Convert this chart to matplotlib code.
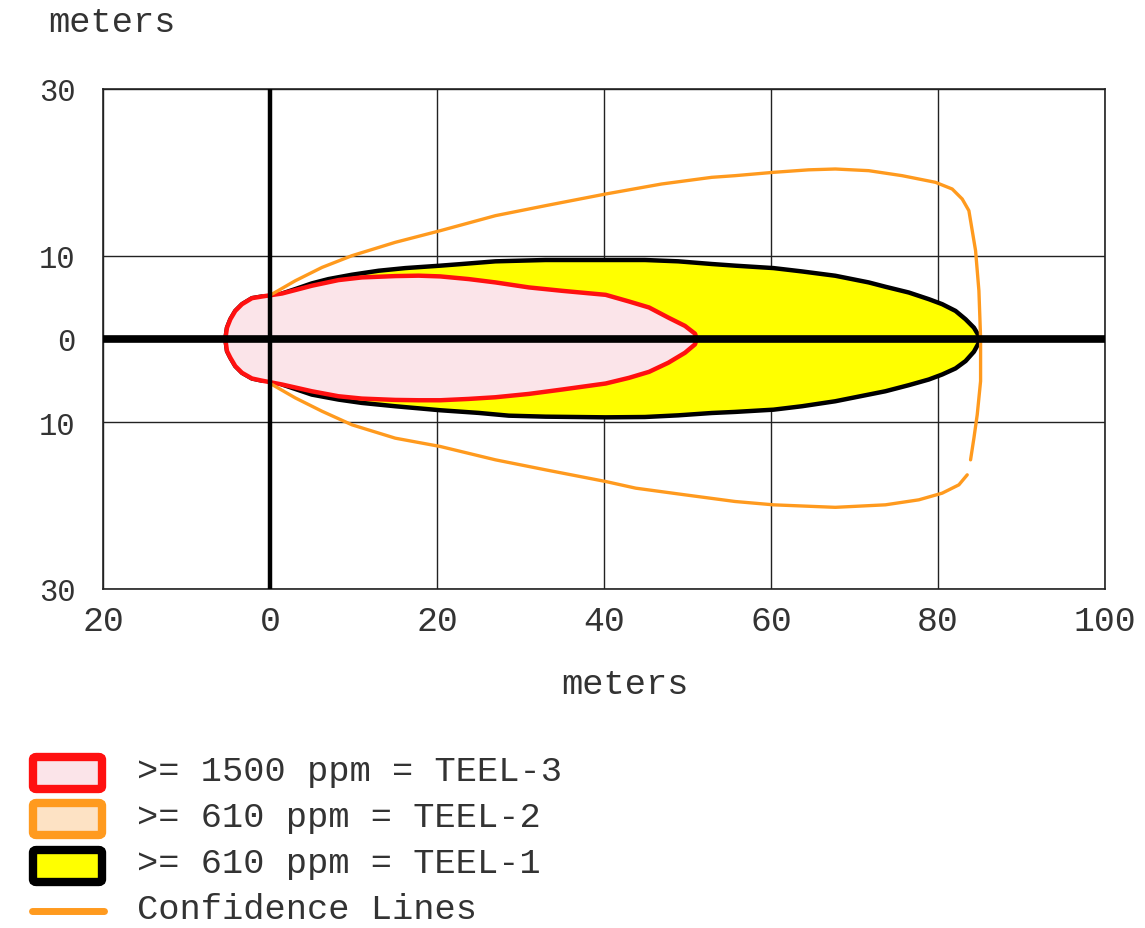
import matplotlib
matplotlib.use("Agg")
import matplotlib.pyplot as plt
from matplotlib.patches import FancyBboxPatch
from matplotlib.lines import Line2D

plt.rcParams['font.family'] = ['Liberation Mono', 'DejaVu Sans Mono']

# ---- data (meters) ----
x_ticks = [-20, 0, 20, 40, 60, 80, 100]
x_tick_labels = ['20', '0', '20', '40', '60', '80', '100']
y_ticks = [-30, -10, 0, 10, 30]
y_tick_labels = ['30', '10', '0', '10', '30']

# TEEL-3 (red) zone
teel3_x = [-5.35, -5.15, -4.75, -4.16, -3.35, -2.16, -0.96, 1.44, 5.0, 8.2, 11.0, 15.0, 17.8,
           20.4, 23.8, 27.0, 31.0, 35.0, 40.2, 43.0, 45.4, 47.7, 49.7, 50.9, 51.1]
teel3_upper = [0.0, 1.36, 2.37, 3.37, 4.18, 4.9, 5.1, 5.46, 6.39, 7.07, 7.39, 7.55, 7.6,
               7.51, 7.19, 6.79, 6.19, 5.78, 5.3, 4.5, 3.78, 2.57, 1.57, 0.64, 0.0]
teel3_lower = [0.0, -1.45, -2.25, -3.25, -4.06, -4.74, -5.0, -5.46, -6.27, -6.87, -7.15, -7.31, -7.35,
               -7.35, -7.19, -6.99, -6.59, -6.06, -5.34, -4.66, -3.94, -2.85, -1.65, -0.64, 0.0]

# TEEL-1 (black / yellow) zone
teel1_up_x = [1.44, 3.0, 5.0, 7.0, 9.8, 13.0, 16.2, 20.4, 23.0, 27.0, 33.0, 40.2, 44.9, 48.9,
              52.9, 55.7, 60.3, 63.7, 67.7, 71.7, 73.7, 76.5, 78.9, 80.5, 82.1, 83.3, 84.3, 84.9, 85.0]
teel1_up_y = [5.46, 5.98, 6.67, 7.19, 7.71, 8.19, 8.51, 8.8, 9.0, 9.32, 9.48, 9.48, 9.48, 9.32,
              9.0, 8.8, 8.51, 8.11, 7.59, 6.79, 6.27, 5.58, 4.78, 4.18, 3.37, 2.37, 1.36, 0.36, 0.0]
teel1_lo_x = [1.44, 5.0, 8.2, 11.0, 15.0, 20.4, 25.0, 28.6, 33.0, 40.2, 44.9, 48.9, 52.9, 55.7,
              60.3, 63.7, 67.7, 71.7, 73.7, 76.5, 78.9, 80.5, 82.1, 83.3, 84.3, 84.9, 85.0]
teel1_lo_y = [-5.46, -6.67, -7.27, -7.67, -8.07, -8.55, -8.87, -9.2, -9.32, -9.4, -9.36, -9.16, -8.88, -8.75,
              -8.48, -8.07, -7.47, -6.67, -6.27, -5.54, -4.86, -4.26, -3.53, -2.65, -1.53, -0.44, 0.0]

# Confidence lines (orange): upper branch continues round the far end, lower branch separate
conf_a_x = [0.24, 3.03, 6.23, 9.82, 15.0, 20.4, 27.0, 33.0, 40.2, 46.9, 52.9, 55.7, 60.3, 64.5,
            67.7, 71.7, 75.7, 79.7, 81.7, 82.9, 83.7, 84.1, 84.5, 84.9, 85.1, 85.1, 85.1, 84.7, 84.3, 83.9]
conf_a_y = [5.38, 6.99, 8.59, 10.0, 11.6, 13.0, 14.8, 16.0, 17.4, 18.6, 19.4, 19.6, 20.0, 20.3,
            20.4, 20.2, 19.6, 18.8, 18.0, 16.8, 15.4, 13.0, 10.6, 5.78, 0.16, -1.45, -5.06, -9.07, -11.9, -14.5]
conf_b_x = [0.24, 3.03, 6.23, 9.82, 15.0, 20.4, 27.0, 33.0, 40.2, 43.8, 49.7, 55.7, 60.3, 67.7,
            73.7, 77.7, 80.5, 82.5, 83.5]
conf_b_y = [-5.46, -7.07, -8.67, -10.3, -11.9, -12.9, -14.5, -15.7, -17.1, -17.9, -18.7, -19.5, -19.9, -20.2,
            -19.9, -19.3, -18.5, -17.5, -16.3]

legend_labels = [">= 1500 ppm = TEEL-3", ">= 610 ppm = TEEL-2", ">= 610 ppm = TEEL-1", "Confidence Lines"]

RED = '#ff1010'
ORANGE = '#ff9a1e'
YELLOW = '#ffff00'
PINK = '#fbe4e9'
PEACH = '#fde2c4'
TXT = '#333333'

W, H = 1145, 929
fig = plt.figure(figsize=(W / 100, H / 100), dpi=100)
ax = fig.add_axes([103 / W, 1 - 590 / H, (1105 - 103) / W, (590 - 90) / H])
ax.set_xlim(-20, 100)
ax.set_ylim(-30, 30)

# grid
for xv in x_ticks:
    ax.axvline(xv, color='#222222', lw=1.0, zorder=1)
for yv in y_ticks:
    ax.axhline(yv, color='#222222', lw=1.0, zorder=1)

# TEEL-1 polygon (includes the upwind red tip)
left_idx = [i for i, v in enumerate(teel3_x) if v < 1.0]
p1x = ([teel3_x[i] for i in reversed(left_idx)] + teel1_up_x + teel1_lo_x[::-1]
       + [teel3_x[i] for i in left_idx])
p1y = ([teel3_upper[i] for i in reversed(left_idx)] + teel1_up_y + teel1_lo_y[::-1]
       + [teel3_lower[i] for i in left_idx])
ax.fill(p1x, p1y, facecolor=YELLOW, edgecolor='black', lw=3.2, zorder=2, joinstyle='round')

# TEEL-3
p3x = teel3_x + teel3_x[::-1]
p3y = teel3_upper + teel3_lower[::-1]
ax.fill(p3x, p3y, facecolor=PINK, edgecolor=RED, lw=3.2, zorder=3, joinstyle='round')

# Confidence lines
ax.plot(conf_a_x, conf_a_y, color=ORANGE, lw=2.4, zorder=4, solid_capstyle='round',
        solid_joinstyle='round')
ax.plot(conf_b_x, conf_b_y, color=ORANGE, lw=2.4, zorder=4, solid_capstyle='round',
        solid_joinstyle='round')

# axes lines
ax.plot([-20, 100], [0, 0], color='black', lw=5.5, zorder=5, solid_capstyle='butt')
ax.plot([0, 0], [-30, 30], color='black', lw=3.2, zorder=5, solid_capstyle='butt')

ax.set_xticks(x_ticks)
ax.set_xticklabels(x_tick_labels, fontsize=25, color=TXT)
ax.set_yticks(y_ticks)
ax.set_yticklabels(y_tick_labels, fontsize=22, color=TXT)
ax.tick_params(length=0, pad=11)
ax.tick_params(axis='y', pad=20)
for s in ax.spines.values():
    s.set_color('#222222')
    s.set_linewidth(1.2)

fig.text(112 / W, 1 - 22 / H, 'meters', fontsize=25.5, color=TXT, ha='center', va='center')
fig.text(625 / W, 1 - 685 / H, 'meters', fontsize=25.5, color=TXT, ha='center', va='center')

# legend
box_specs = [(774, RED, PINK), (820, ORANGE, PEACH), (867, 'black', YELLOW)]
for cy, ec, fc in box_specs:
    bx0, bx1 = 33, 102
    by0, by1 = cy - 16, cy + 16
    patch = FancyBboxPatch((bx0 / W, 1 - by1 / H), (bx1 - bx0) / W, (by1 - by0) / H,
                           boxstyle='round,pad=0,rounding_size=0.003',
                           transform=fig.transFigure, facecolor=fc, edgecolor=ec,
                           lw=6, zorder=10)
    fig.add_artist(patch)
fig.add_artist(Line2D([32 / W, 104 / W], [1 - 912 / H, 1 - 912 / H], color=ORANGE,
                      lw=5, solid_capstyle='round', transform=fig.transFigure))

text_y = [772, 818, 863, 910]
for ty, lab in zip(text_y, legend_labels):
    fig.text(137 / W, 1 - ty / H, lab, fontsize=25.5, color=TXT, ha='left', va='center')

fig.savefig('out.png', dpi=100, facecolor='white')
